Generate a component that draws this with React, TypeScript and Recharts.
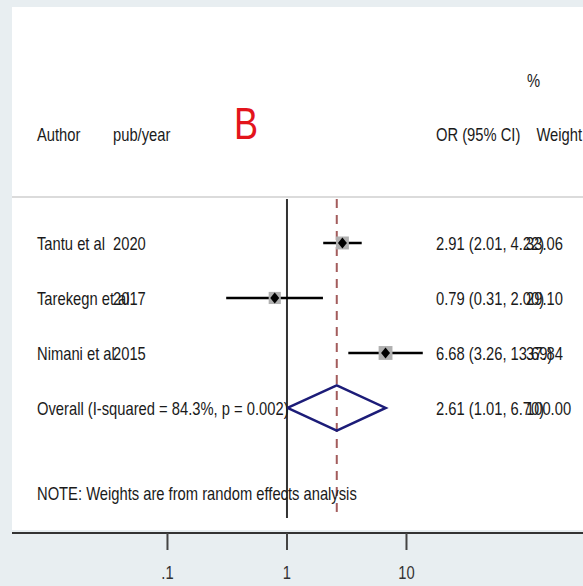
import React from 'react';
import {
  ScatterChart,
  Scatter,
  XAxis,
  YAxis,
  ErrorBar,
  ReferenceLine,
  ReferenceArea
} from 'recharts';

// study rows
const authors = ['Tantu et al', 'Tarekegn et al', 'Nimani et al'];
const years = ['2020', '2017', '2015'];
const orValues = [2.91, 0.79, 6.68];
const ciLow = [2.01, 0.31, 3.26];
const ciHigh = [4.22, 2.0, 13.69];
const weights = [33.06, 29.1, 37.84];

// pooled estimate
const overallOR = 2.61;
const overallLow = 1.01;
const overallHigh = 6.7;
const overallLabel = 'Overall  (I-squared = 84.3%, p = 0.002)';

const xTicks = [0.1, 1, 10];
const xTickLabels = ['.1', '1', '10'];

const W = 583;
const H = 586;
const X_DOMAIN: [number, number] = [0.005, 300];
const Y_DOMAIN: [number, number] = [-3.29, 6.273];
const FONT = '"Liberation Sans", Arial, sans-serif';
const SX = 0.82; // stata-like narrow text

const fmt = (v: number) => v.toFixed(2);

const rows = authors.map((a, i) => ({
  row: i + 1,
  or: orValues[i],
  err: [orValues[i] - ciLow[i], ciHigh[i] - orValues[i]],
  weight: weights[i],
  author: a,
  year: years[i],
  ciText: `${fmt(orValues[i])} (${fmt(ciLow[i])}, ${fmt(ciHigh[i])})`,
  wText: fmt(weights[i])
}));

const overallRow = {
  row: rows.length + 1,
  or: overallOR,
  author: overallLabel,
  year: '',
  ciText: `${fmt(overallOR)} (${fmt(overallLow)}, ${fmt(overallHigh)})`,
  wText: '100.00'
};

const DIAMOND_HALF = 0.41;
const diamond = [
  { or: overallLow, row: overallRow.row },
  { or: overallOR, row: overallRow.row - DIAMOND_HALF },
  { or: overallHigh, row: overallRow.row },
  { or: overallOR, row: overallRow.row + DIAMOND_HALF },
  { or: overallLow, row: overallRow.row }
];

const Txt = ({ x, y, size = 18, anchor = 'start', fill = '#1a1a1a', weight = 400, children }: any) => (
  <text
    transform={`translate(${x},${y}) scale(${SX},1)`}
    fontSize={size}
    fontFamily={FONT}
    fontWeight={weight}
    textAnchor={anchor}
    dominantBaseline="central"
    fill={fill}
  >
    {children}
  </text>
);

// header + footnote, drawn over the chart
const Header = () => (
  <svg width={W} height={H} style={{ position: 'absolute', left: 0, top: 0, pointerEvents: 'none' }}>
    <Txt x={527} y={80}>%</Txt>
    <Txt x={37} y={134}>Author</Txt>
    <Txt x={113} y={134}>pub/year</Txt>
    <Txt x={234} y={124} size={44} fill="#e3141c">B</Txt>
    <Txt x={436} y={134}>OR (95% CI)</Txt>
    <Txt x={582} y={134} anchor="end">Weight</Txt>
    <Txt x={37} y={493}>NOTE: Weights are from random effects analysis</Txt>
  </svg>
);

const RowText = (props: any) => {
  const { cy, payload } = props;
  return (
    <g>
      <Txt x={37} y={cy}>{payload.author}</Txt>
      {payload.year && <Txt x={113} y={cy}>{payload.year}</Txt>}
      <Txt x={436} y={cy}>{payload.ciText}</Txt>
      <Txt x={526} y={cy}>{payload.wText}</Txt>
    </g>
  );
};

const WeightBox = (props: any) => {
  const { cx, cy, payload } = props;
  const s = 2.25 * Math.sqrt(payload.weight);
  return <rect x={cx - s / 2} y={cy - s / 2} width={s} height={s} fill="#b0b0b0" />;
};

const PointDiamond = (props: any) => {
  const { cx, cy } = props;
  return <polygon points={`${cx - 4.5},${cy} ${cx},${cy - 5.5} ${cx + 4.5},${cy} ${cx},${cy + 5.5}`} fill="#000" />;
};

const AxisTick = (props: any) => {
  const { x, y, payload } = props;
  const i = xTicks.indexOf(payload.value);
  return <Txt x={x} y={y + 20} anchor="middle" fill="#333">{xTickLabels[i]}</Txt>;
};

export default function App() {
  return (
    <div style={{ position: 'absolute', left: 0, top: 0, width: W, height: H, background: '#e8eef1' }}>
      <ScatterChart width={W} height={H} margin={{ top: 7, right: 0, bottom: 0, left: 12 }}>
        <XAxis
          type="number"
          dataKey="or"
          scale="log"
          domain={X_DOMAIN}
          allowDataOverflow
          ticks={xTicks}
          height={53}
          tickSize={17}
          axisLine={{ stroke: '#333', strokeWidth: 2 }}
          tickLine={{ stroke: '#444', strokeWidth: 2 }}
          tick={<AxisTick />}
        />
        <YAxis type="number" dataKey="row" domain={Y_DOMAIN} reversed hide allowDataOverflow />
        <ReferenceArea x1={X_DOMAIN[0]} x2={X_DOMAIN[1]} y1={Y_DOMAIN[0]} y2={6.22} fill="#ffffff" fillOpacity={1} stroke="none" />
        <ReferenceLine y={0.164} stroke="#cfcfcf" strokeWidth={1.5} />
        <ReferenceLine segment={[{ x: 1, y: 0.2 }, { x: 1, y: 6.0 }]} stroke="#333" strokeWidth={2} />
        <ReferenceLine
          segment={[{ x: overallOR, y: 0.2 }, { x: overallOR, y: 6.0 }]}
          stroke="#a35c5c"
          strokeWidth={2}
          strokeDasharray="9 7"
        />
        <Scatter data={[...rows, overallRow]} shape={<RowText />} isAnimationActive={false} />
        <Scatter data={rows} shape={<WeightBox />} isAnimationActive={false} />
        <Scatter data={rows} shape={<PointDiamond />} isAnimationActive={false}>
          <ErrorBar dataKey="err" direction="x" width={0} stroke="#000" strokeWidth={2.5} />
        </Scatter>
        <Scatter
          data={diamond}
          line={{ stroke: '#1c1c78', strokeWidth: 2.5 }}
          shape={() => null}
          isAnimationActive={false}
        />
      </ScatterChart>
      <Header />
    </div>
  );
}
